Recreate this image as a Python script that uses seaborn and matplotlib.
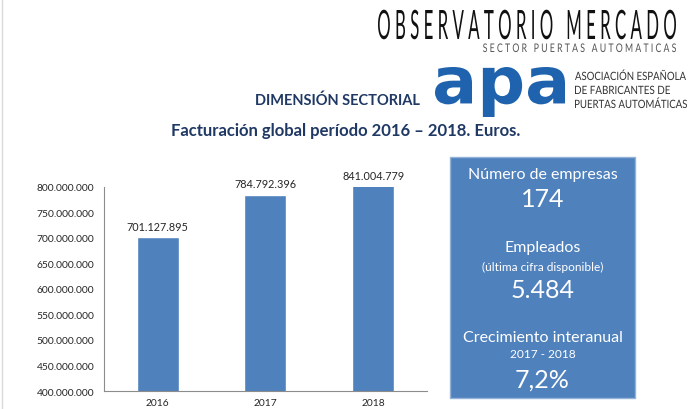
import matplotlib
matplotlib.use("Agg")
import matplotlib.pyplot as plt
import matplotlib.ticker as mticker
from matplotlib.patches import Rectangle, PathPatch
from matplotlib.textpath import TextPath
from matplotlib.font_manager import FontProperties
from matplotlib.transforms import Affine2D, IdentityTransform
import seaborn as sns
import pandas as pd

years = ["2016", "2017", "2018"]
facturacion = [701127895, 784792396, 841004779]

box_titles = ["Número de empresas", "Empleados", "Crecimiento interanual"]
box_subtitles = ["", "(última cifra disponible)", "2017 - 2018"]
box_values = ["174", "5.484", "7,2%"]

sns.set_style("white")
plt.rcParams['font.family'] = ['Lato', 'DejaVu Sans']

BLUE = "#4F81BD"
NAVY = "#1F3864"
W, H = 690, 410


def es_fmt(v, pos=None):
    return f"{int(round(v)):,}".replace(",", ".")


def narrow_text(fig, s, x0, x1, ybase, cap_px, color, weight="normal", family="Lato", ytop=None):
    # text squeezed horizontally to fit x0..x1 (pixels); cap height cap_px,
    # or, with ytop given, the whole ink box fitted to ytop..ybase
    fp = FontProperties(family=family, weight=weight)
    tp = TextPath((0, 0), s, size=100, prop=fp)
    bb = tp.get_extents()
    sx = (x1 - x0) / bb.width
    if ytop is None:
        cap = TextPath((0, 0), "H", size=100, prop=fp).get_extents().height
        sy = cap_px / cap
        y0 = 0
    else:
        sy = (ybase - ytop) / bb.height
        y0 = bb.y0
    tr = Affine2D().translate(-bb.x0, -y0).scale(sx, sy).translate(x0, H - ybase)
    fig.add_artist(PathPatch(tr.transform_path(tp), facecolor=color, edgecolor="none",
                             transform=IdentityTransform()))


df = pd.DataFrame({"year": years, "value": facturacion})

fig = plt.figure(figsize=(6.9, 4.1), dpi=100)
ax = fig.add_axes([0.1507, 0.0439, 0.468, 0.4976])

sns.barplot(data=df, x="year", y="value", color=BLUE, width=0.39, ax=ax, saturation=1)
ymin, ymax = 400_000_000, 800_000_000
ax.set_ylim(ymin, ymax)
ax.set_xlim(-0.5, 2.5)
ax.yaxis.set_major_locator(mticker.MultipleLocator(50_000_000))
ax.yaxis.set_major_formatter(mticker.FuncFormatter(es_fmt))
ax.set_xlabel("")
ax.set_ylabel("")

# value labels (the 2018 bar is cut at the axis top, label stays above it)
for i, v in enumerate(facturacion):
    ax.annotate(es_fmt(v), (i, min(v, ymax)), xytext=(0, 4), textcoords="offset points",
                ha="center", va="bottom", fontsize=7.8, color="#262626", annotation_clip=False)

for s in ["top", "right"]:
    ax.spines[s].set_visible(False)
for s in ["left", "bottom"]:
    ax.spines[s].set_color("#8C8C8C")
    ax.spines[s].set_linewidth(0.8)

ax.tick_params(axis="y", length=3, width=0.8, color="#8C8C8C", labelsize=7.4, labelcolor="#262626", pad=4)
ax.tick_params(axis="x", which="major", length=0, labelsize=7.4, labelcolor="#262626", pad=5)
ax.set_xticks([-0.5, 0.5, 1.5, 2.5], minor=True)
ax.tick_params(axis="x", which="minor", length=3, width=0.8, color="#8C8C8C")

# titles
fig.text(337 / W, 1 - 101 / H, "DIMENSIÓN SECTORIAL", ha="center", va="center",
         fontsize=10.5, fontweight="bold", color=NAVY)
fig.text(346 / W, 1 - 131 / H, "Facturación global período 2016 – 2018. Euros.", ha="center",
         va="center", fontsize=12, fontweight="bold", color=NAVY)

# header
narrow_text(fig, " ".join("OBSERVATORIO") + "   " + " ".join("MERCADO"), 378, 676, 40, 29,
            "#111111", weight="normal")
narrow_text(fig, " ".join("SECTOR") + "   " + " ".join("PUERTAS") + "   " + " ".join("AUTOMATICAS"),
            483, 676, 53, 8.5, "#555555", weight="normal")

# apa logo
narrow_text(fig, "apa", 435, 565, 118, 0, "#1F63AE", weight="bold", family="DejaVu Sans", ytop=68)
for k, (line, x1) in enumerate(zip(["ASOCIACIÓN ESPAÑOLA", "DE FABRICANTES DE", "PUERTAS AUTOMÁTICAS"],
                                   [686, 670, 687])):
    narrow_text(fig, line, 575, x1, 81 + 14 * k, 8.2, "#333333")

# info box
fig.add_artist(Rectangle((450 / W, 1 - 399 / H), 185 / W, 241 / H, transform=fig.transFigure,
                         facecolor=BLUE, edgecolor="#95B3D7", linewidth=1))
cx = 542.5 / W
rows_y = [(175, None, 200), (248, 267, 291), (338, 355, 380)]
for (ty, sy, vy), t, st, val in zip(rows_y, box_titles, box_subtitles, box_values):
    fig.text(cx, 1 - ty / H, t, ha="center", va="center", fontsize=11.5, color="white")
    if st:
        fig.text(cx, 1 - sy / H, st, ha="center", va="center", fontsize=8.6, color="white")
    fig.text(cx, 1 - vy / H, val, ha="center", va="center", fontsize=18, color="white")

# slide left border
fig.add_artist(plt.Line2D([0.003, 0.003], [0, 1], transform=fig.transFigure, color="#D9D9D9", linewidth=1))

fig.savefig("out.png", dpi=100)
